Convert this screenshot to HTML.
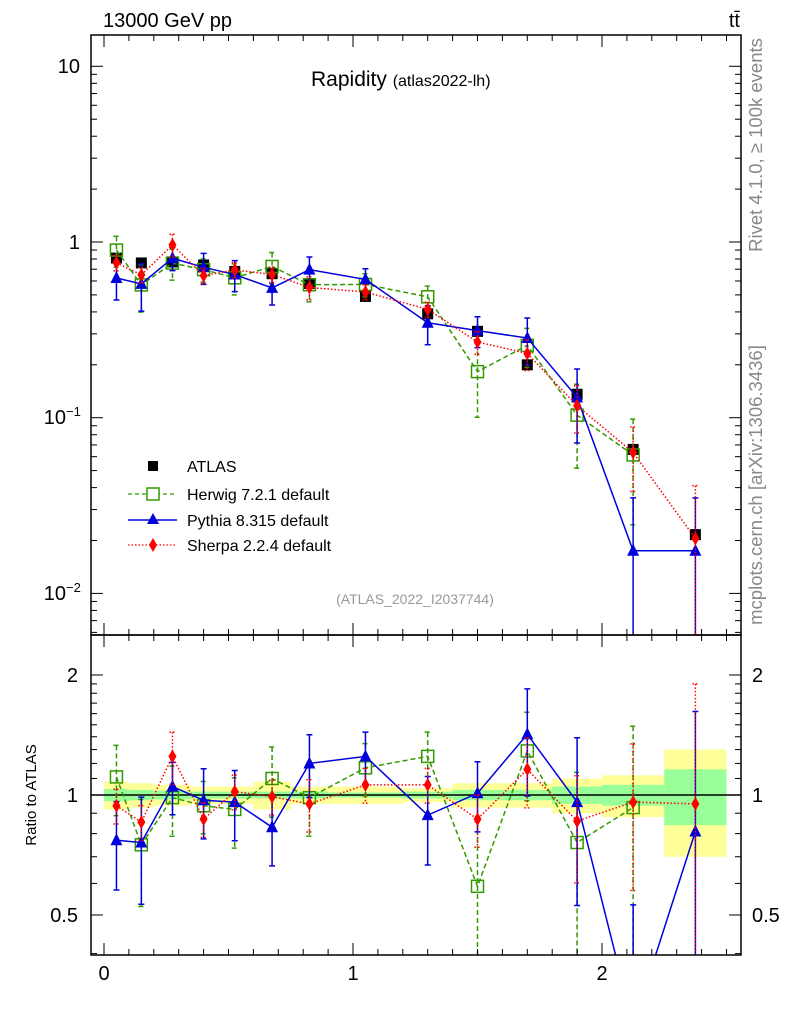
<!DOCTYPE html>
<html><head><meta charset="utf-8"><style>
html,body{margin:0;padding:0;background:#fff;overflow:hidden;width:786px;height:1024px}
svg{display:block;font-family:"Liberation Sans",sans-serif;overflow:hidden}
</style></head><body>
<svg id="c" width="786" height="1024" viewBox="0 0 786 1024" xmlns="http://www.w3.org/2000/svg">
<defs>
<clipPath id="cm"><rect x="91" y="35" width="650" height="600"/></clipPath>
<clipPath id="cr"><rect x="91" y="635" width="650" height="320"/></clipPath>
</defs>
<g id="bands" clip-path="url(#cr)"></g>
<g id="marks"></g>
<rect x="91" y="35" width="650" height="600" fill="none" stroke="#000" stroke-width="1.5"/>
<rect x="91" y="635" width="650" height="320" fill="none" stroke="#000" stroke-width="1.5"/>
<g id="ticks" stroke="#000" stroke-width="1"></g>
<text x="103" y="27" font-size="20">13000 GeV pp</text>
<text x="740" y="27" font-size="20" text-anchor="end">tt̄</text>
<text x="311" y="86" font-size="21">Rapidity <tspan font-size="16">(atlas2022-lh)</tspan></text>
<text x="415" y="604" font-size="14" fill="#999" text-anchor="middle">(ATLAS_2022_I2037744)</text>
<text transform="translate(762,145) rotate(-90)" font-size="18.5" fill="#888" text-anchor="middle">Rivet 4.1.0, ≥ 100k events</text>
<text transform="translate(762,485) rotate(-90)" font-size="18.5" fill="#888" text-anchor="middle">mcplots.cern.ch [arXiv:1306.3436]</text>
<text transform="translate(36,795) rotate(-90)" font-size="15" text-anchor="middle">Ratio to ATLAS</text>
<g id="legend" font-size="16">
<rect x="148" y="461" width="10" height="10" fill="#000"/>
<text x="187" y="472">ATLAS</text>
<line x1="128" y1="494" x2="177" y2="494" stroke="#339900" stroke-dasharray="4,3" stroke-width="1.3"/>
<rect x="147" y="488" width="12" height="12" fill="#fff" stroke="#339900" stroke-width="1.5"/>
<text x="187" y="500">Herwig 7.2.1 default</text>
<line x1="128" y1="520" x2="177" y2="520" stroke="#0000dd" stroke-width="1.5"/>
<polygon points="153,513 159,524 147,524" fill="#0000dd"/>
<text x="187" y="526">Pythia 8.315 default</text>
<line x1="128" y1="545" x2="177" y2="545" stroke="#ff0000" stroke-dasharray="1.5,2" stroke-width="1.3"/>
<polygon points="153,538 157,545 153,552 149,545" fill="#ff0000"/>
<text x="187" y="551">Sherpa 2.2.4 default</text>
</g>
</svg>
<script>
const binEdges=[0,0.1,0.2,0.35,0.45,0.6,0.75,0.9,1.2,1.4,1.6,1.8,2.0,2.25,2.5];
const atlasValues=[0.81,0.76,0.77,0.74,0.68,0.66,0.58,0.49,0.39,0.31,0.20,0.136,0.066,0.0216];
const bandYellow=[0.08,0.07,0.06,0.05,0.05,0.08,0.05,0.05,0.04,0.07,0.07,0.1,0.12,0.3];
const bandGreen=[0.035,0.03,0.025,0.02,0.02,0.02,0.02,0.015,0.02,0.03,0.03,0.05,0.06,0.16];
const herwigRatio=[1.11,0.75,0.985,0.94,0.92,1.10,0.985,1.17,1.25,0.59,1.29,0.76,0.93];
const herwigErr=[0.2,0.3,0.2,0.15,0.2,0.2,0.2,0.15,0.15,0.45,0.25,0.5,0.6];
const pythiaRatio=[0.77,0.76,1.05,0.97,0.96,0.83,1.2,1.25,0.89,1.01,1.42,0.96,0.265,0.81];
const pythiaErr=[0.25,0.3,0.15,0.2,0.2,0.2,0.18,0.15,0.25,0.2,0.3,0.45,1,1];
const sherpaRatio=[0.94,0.855,1.25,0.87,1.02,0.99,0.95,1.06,1.06,0.87,1.16,0.86,0.96,0.95];
const sherpaErr=[0.1,0.1,0.15,0.1,0.1,0.1,0.15,0.1,0.1,0.15,0.2,0.3,0.4,1];

const NS='http://www.w3.org/2000/svg';
const X=v=>104+v*249;
const YM=v=>242-175.7*Math.log10(v);
const YR=v=>795-398.6*Math.log10(v);
function mk(tag,attrs,parent){const e=document.createElementNS(NS,tag);for(const k in attrs)e.setAttribute(k,attrs[k]);parent.appendChild(e);return e;}
const svg=document.getElementById('c');
const bands=document.getElementById('bands');
const marks=document.getElementById('marks');
const ticks=document.getElementById('ticks');
const centers=atlasValues.map((_,i)=>(binEdges[i]+binEdges[i+1])/2);

for(let i=0;i<atlasValues.length;i++){
  const x1=X(binEdges[i]),x2=X(binEdges[i+1]);
  const y=mk('rect',{x:x1,y:YR(1+bandYellow[i]),width:x2-x1,height:YR(1-bandYellow[i])-YR(1+bandYellow[i]),fill:'#ffff99'},bands);
  
  
}
for(let i=0;i<atlasValues.length;i++){
  const x1=X(binEdges[i]),x2=X(binEdges[i+1]);
  const g=mk('rect',{x:x1,y:YR(1+bandGreen[i]),width:x2-x1,height:YR(1-bandGreen[i])-YR(1+bandGreen[i]),fill:'#99ff99'},bands);
  
  
}
const ref=mk('line',{x1:91,x2:741,y1:YR(1),y2:YR(1),stroke:'#000','stroke-width':1.5},bands);



const gm=mk('g',{'clip-path':'url(#cm)'},marks);
const gr=mk('g',{'clip-path':'url(#cr)'},marks);

function series(name,ratio,err,color,dash,marker){
  [[gm,YM,true],[gr,YR,false]].forEach(([g,Y,main])=>{
    const top=main?35:635,bot=main?635:955;
    const cl=v=>Math.min(Math.max(v,top-20),bot+20);
    const sg=mk('g',{},g);
    
    
    const pts=ratio.map((r,i)=>[X(centers[i]),Y(main?r*atlasValues[i]:r)]);
    const pl=mk('polyline',{points:pts.map(p=>p.join(',')).join(' '),fill:'none',stroke:color,'stroke-width':1.5,'stroke-dasharray':dash},sg);
    
    
    ratio.forEach((r,i)=>{
      const base=main?r*atlasValues[i]:r;
      const lo=Math.max(base*(1-err[i]),1e-4),hi=base*(1+err[i]);
      const x=X(centers[i]);
      const yh=cl(Y(hi)),yl=cl(Y(lo));
      const eb=mk('path',{d:`M${x},${yh}V${yl}M${x-3},${yh}H${x+3}M${x-3},${yl}H${x+3}`,stroke:color,'stroke-width':1.5,fill:'none','stroke-dasharray':dash},sg);
      
      
      const y=Y(base);
      let m;
      if(marker==='sq') m=mk('rect',{x:x-6,y:y-6,width:12,height:12,fill:'none',stroke:color,'stroke-width':1.5},sg);
      else if(marker==='tri') m=mk('polygon',{points:`${x},${y-7} ${x+6},${y+5} ${x-6},${y+5}`,fill:color},sg);
      else m=mk('polygon',{points:`${x},${y-7} ${x+4},${y} ${x},${y+7} ${x-4},${y}`,fill:color},sg);
      
      
    });
  });
}
atlasValues.forEach((v,i)=>{
  const r=mk('rect',{x:X(centers[i])-5.5,y:YM(v)-5.5,width:11,height:11,fill:'#000'},gm);
  
  
});
series('herwig',herwigRatio,herwigErr,'#339900','5,3','sq');
series('pythia',pythiaRatio,pythiaErr,'#0000dd','none','tri');
series('sherpa',sherpaRatio,sherpaErr,'#ff0000','1.5,2','dia');

function t(x1,y1,x2,y2){mk('line',{x1,y1,x2,y2},ticks);}
function label(x,y,txt,anchor,size,name){const e=mk('text',{x,y,'text-anchor':anchor,'font-size':size,stroke:'none'},svg);e.textContent=txt;return e;}
for(let k=0;k<=25;k++){const v=k/10,x=X(v);if(x>741)break;const L=(k%10===0)?12:6;
  t(x,635,x,635-L);t(x,35,x,35+L);t(x,955,x,955-L);t(x,635,x,635+L);}
['0','1','2'].forEach((s,i)=>label(X(i),980,s,'middle',20,'x-tick-label'));
for(let d=-3;d<=1;d++){for(let m=1;m<10;m++){const v=m*Math.pow(10,d),y=YM(v);if(y<35||y>635)continue;const L=m===1?12:6;t(91,y,91+L,y);t(741,y,741-L,y);}}
label(80,73,'10','end',20,'y-tick-label');
label(80,249,'1','end',20,'y-tick-label');
label(66,424,'10','end',20,'y-tick-label');
label(66,416,'−1','start',13,'y-tick-exponent');
label(66,600,'10','end',20,'y-tick-label');
label(66,592,'−2','start',13,'y-tick-exponent');
for(const v of [0.4,0.5,0.6,0.7,0.8,0.9,1,1.1,1.2,1.3,1.4,1.5,1.6,1.7,1.8,1.9,2,3]){const y=YR(v);if(y<635||y>955)continue;const L=(v===0.5||v===1||v===2)?12:6;t(91,y,91+L,y);t(741,y,741-L,y);}
[['2',2],['1',1],['0.5',0.5]].forEach(([s,v])=>{label(78,YR(v)+7,s,'end',20,'ratio-tick-label');label(752,YR(v)+7,s,'start',20,'ratio-tick-label-right');});
</script>
</body></html>
